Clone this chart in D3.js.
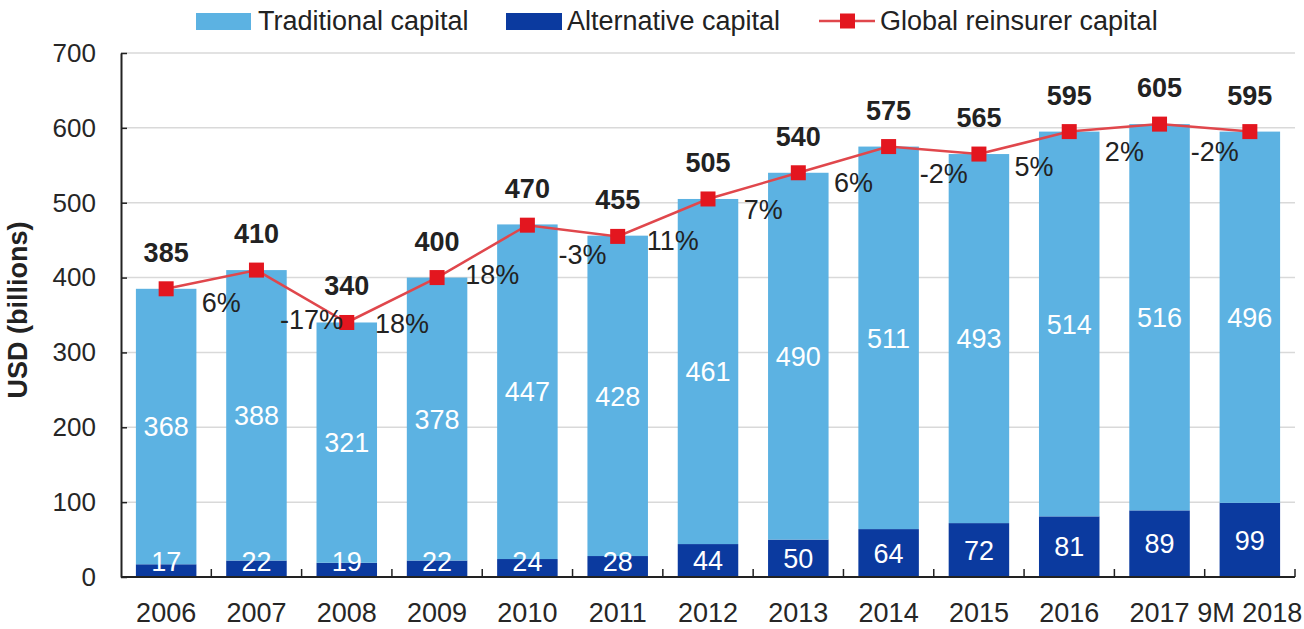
<html>
<head>
  <script src="https://cdn.jsdelivr.net/npm/d3@7"></script>
  <style>
    body { margin: 0; background: #fff; }
    text { font-family: "Liberation Sans", Arial, sans-serif; }
  </style>
</head>
<body>
<div id="chart"></div>
<script>

  // data
  var years = ["2006", "2007", "2008", "2009", "2010", "2011", "2012", "2013", "2014", "2015", "2016", "2017", "9M 2018"];
  var traditional = [368, 388, 321, 378, 447, 428, 461, 490, 511, 493, 514, 516, 496];
  var alternative = [17, 22, 19, 22, 24, 28, 44, 50, 64, 72, 81, 89, 99];
  var totals = [385, 410, 340, 400, 470, 455, 505, 540, 575, 565, 595, 605, 595];
  var growth = ["6%", "-17%", "18%", "18%", "-3%", "11%", "7%", "6%", "-2%", "5%", "2%", "-2%"];
  var yTicks = [0, 100, 200, 300, 400, 500, 600, 700];

  var W = 1304, H = 629;
  var plotLeft = 121, plotRight = 1295, plotTop = 53, plotBottom = 577;

  var lightBlue = "#5cb2e2", darkBlue = "#0b3a9f", red = "#e3161f", lineRed = "#e0474c";

  var svg = d3.select("#chart").append("svg")
    .attr("width", W)
    .attr("height", H);

  var x = d3.scaleBand()
    .domain(years)
    .range([plotLeft, plotRight])
    .paddingInner(0.33)
    .paddingOuter(0.165);

  var y = d3.scaleLinear()
    .domain([0, 700])
    .range([plotBottom, plotTop]);

  // gridlines
  svg.append("g")
    .selectAll("line")
    .data(yTicks.filter(function (d) { return d > 0; }))
    .enter().append("line")
    .attr("x1", plotLeft)
    .attr("x2", plotRight)
    .attr("y1", function (d) { return y(d); })
    .attr("y2", function (d) { return y(d); })
    .style("stroke", "#d9d9d9")
    .style("stroke-width", 1.5);

  // stacked bars, alternative at the bottom
  var rows = years.map(function (yr, i) {
    return { year: yr, alternative: alternative[i], traditional: traditional[i] };
  });
  var stack = d3.stack().keys(["alternative", "traditional"])(rows);
  var colors = { alternative: darkBlue, traditional: lightBlue };

  svg.append("g")
    .selectAll("g")
    .data(stack)
    .enter().append("g")
    .style("fill", function (s) { return colors[s.key]; })
    .selectAll("rect")
    .data(function (s) { return s; })
    .enter().append("rect")
    .attr("x", function (d) { return x(d.data.year); })
    .attr("width", x.bandwidth())
    .attr("y", function (d) { return y(d[1]); })
    .attr("height", function (d) { return y(d[0]) - y(d[1]); });

  // white values inside the bars
  svg.append("g")
    .selectAll("text")
    .data(stack[1])
    .enter().append("text")
    .attr("x", function (d) { return x(d.data.year) + x.bandwidth() / 2; })
    .attr("y", function (d) { return y((d[0] + d[1]) / 2); })
    .attr("dy", "0.36em")
    .attr("text-anchor", "middle")
    .style("fill", "#fff")
    .style("font-size", "27px")
    .text(function (d) { return d.data.traditional; });

  svg.append("g")
    .selectAll("text")
    .data(stack[0])
    .enter().append("text")
    .attr("x", function (d) { return x(d.data.year) + x.bandwidth() / 2; })
    .attr("y", function (d) { return Math.min(y((d[0] + d[1]) / 2), 561); })
    .attr("dy", "0.36em")
    .attr("text-anchor", "middle")
    .style("fill", "#fff")
    .style("font-size", "27px")
    .text(function (d) { return d.data.alternative; });

  // y axis
  var yAxis = svg.append("g")
    .attr("transform", "translate(" + plotLeft + ",0)")
    .call(d3.axisLeft(y).tickValues(yTicks).tickSizeInner(-6).tickSizeOuter(0).tickPadding(25));
  yAxis.select(".domain").style("stroke", "#222").style("stroke-width", 2);
  yAxis.selectAll(".tick line").style("stroke", "#222").style("stroke-width", 1.5);
  yAxis.selectAll("text")
    .style("font-size", "26px")
    .style("fill", "#262626")
    .style("font-family", "'Liberation Sans', Arial, sans-serif");

  // x axis
  var xAxis = svg.append("g")
    .attr("transform", "translate(0," + plotBottom + ")")
    .call(d3.axisBottom(x).tickSize(0).tickPadding(26));
  xAxis.select(".domain").remove();
  xAxis.selectAll("text")
    .style("font-size", "27px")
    .style("fill", "#262626")
    .style("font-family", "'Liberation Sans', Arial, sans-serif");

  svg.append("line")
    .attr("x1", plotLeft).attr("x2", plotRight)
    .attr("y1", plotBottom).attr("y2", plotBottom)
    .style("stroke", "#222")
    .style("stroke-width", 2);

  var gap = (x.step() - x.bandwidth()) / 2;
  svg.append("g")
    .selectAll("line")
    .data(years)
    .enter().append("line")
    .attr("x1", function (d) { return x(d) + x.bandwidth() + gap; })
    .attr("x2", function (d) { return x(d) + x.bandwidth() + gap; })
    .attr("y1", plotBottom)
    .attr("y2", plotBottom - 8)
    .style("stroke", "#222")
    .style("stroke-width", 1.5);

  // total line + markers
  var cx = function (i) { return x(years[i]) + x.bandwidth() / 2; };

  svg.append("path")
    .datum(totals)
    .attr("d", d3.line()
      .x(function (d, i) { return cx(i); })
      .y(function (d) { return y(d); }))
    .style("fill", "none")
    .style("stroke", lineRed)
    .style("stroke-width", 2.5);

  svg.append("g")
    .selectAll("rect")
    .data(totals)
    .enter().append("rect")
    .attr("x", function (d, i) { return cx(i) - 7.5; })
    .attr("y", function (d) { return y(d) - 7.5; })
    .attr("width", 15)
    .attr("height", 15)
    .style("fill", red);

  svg.append("g")
    .selectAll("text")
    .data(totals)
    .enter().append("text")
    .attr("x", function (d, i) { return cx(i); })
    .attr("y", function (d) { return y(d) - 27; })
    .attr("text-anchor", "middle")
    .style("font-size", "27px")
    .style("font-weight", "bold")
    .style("fill", "#222")
    .text(function (d) { return d; });

  // growth labels between points
  svg.append("g")
    .selectAll("text")
    .data(growth)
    .enter().append("text")
    .attr("x", function (d, i) { return (cx(i) + cx(i + 1)) / 2 + 10; })
    .attr("y", function (d, i) { return (y(totals[i]) + y(totals[i + 1])) / 2 + 23; })
    .attr("dy", "0.36em")
    .attr("text-anchor", "middle")
    .style("font-size", "27px")
    .style("fill", "#222")
    .text(function (d) { return d; });

  // y title
  svg.append("text")
    .attr("transform", "translate(27,310) rotate(-90)")
    .attr("text-anchor", "middle")
    .style("font-size", "27px")
    .style("font-weight", "bold")
    .style("fill", "#222")
    .text("USD (billions)");

  // legend
  var legend = svg.append("g");
  legend.append("rect").attr("x", 196).attr("y", 13).attr("width", 55).attr("height", 17).style("fill", lightBlue);
  legend.append("text").attr("x", 258).attr("y", 30).style("font-size", "27px").style("fill", "#222").text("Traditional capital");
  legend.append("rect").attr("x", 506).attr("y", 13).attr("width", 56).attr("height", 17).style("fill", darkBlue);
  legend.append("text").attr("x", 567).attr("y", 30).style("font-size", "27px").style("fill", "#222").text("Alternative capital");
  legend.append("line").attr("x1", 819).attr("x2", 875).attr("y1", 21).attr("y2", 21).style("stroke", lineRed).style("stroke-width", 2.5);
  legend.append("rect").attr("x", 840).attr("y", 13.5).attr("width", 15).attr("height", 15).style("fill", red);
  legend.append("text").attr("x", 880).attr("y", 30).style("font-size", "27px").style("fill", "#222").text("Global reinsurer capital");

</script>
</body>
</html>
